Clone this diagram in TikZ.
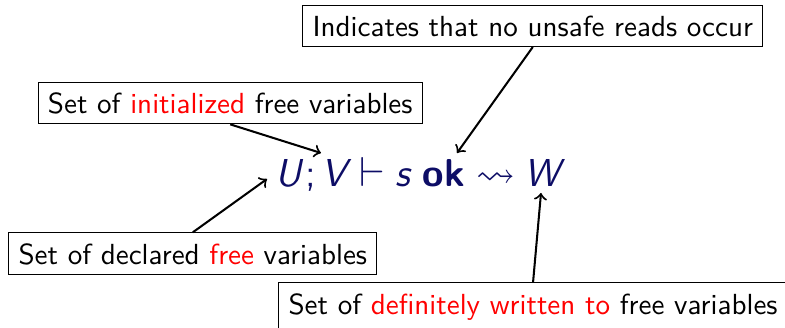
\documentclass[tikz,border=0pt]{standalone}
\usepackage{amssymb}
\usepackage{fontspec}
\definecolor{formula}{rgb}{0.05,0.05,0.4}
\tikzset{
  note/.style={draw, font=\sffamily\fontsize{10}{12}\selectfont, inner sep=3.33pt, text height=7.4pt, anchor=north west},
  ptr/.style={->, line width=0.7pt},
  sym/.style={anchor=base west, inner sep=0pt, text=formula, font=\sffamily\fontsize{13.4}{15}\selectfont},
}
\newcommand{\hl}[1]{\textcolor{red}{#1}}
\begin{document}
\begin{tikzpicture}[x=0.3441pt,y=-0.3441pt]
\useasboundingbox (0,0) rectangle (785,328);
\clip (0,0) rectangle (785,328);
\node[note] (top) at (302.3,4.7) {Indicates that no unsafe reads occur};
\node[note] (init) at (37.7,81.7) {Set of \hl{initialized} free variables};
\node[note] (decl) at (8.3,232.3) {Set of declared \hl{free} variables};
\node[note] (writ) at (278.3,282.3) {Set of \hl{definitely written to} free variables};
\node[sym] (fU) at (275,187) {\itshape U};
\node[sym] (fsemi) at (305,187) {;};
\node[sym] (fV) at (321,187) {\itshape V};
\node[sym] (fvd) at (359,187) {$\vdash$};
\node[sym] (fs) at (395,187) {\itshape s};
\node[sym] (fok) at (422,187) {\bfseries ok};
\node[sym] (fsq) at (476,187) {$\rightsquigarrow$};
\node[sym] (fW) at (524,187) {\itshape W};
\coordinate (uL) at (267,179);
\coordinate (uT) at (321,153);
\coordinate (okT) at (457,153);
\coordinate (wB) at (541,193);
\draw[ptr] (decl.north) -- (uL);
\draw[ptr] (init.south) -- (uT);
\draw[ptr] (top.south) -- (okT);
\draw[ptr] (writ.north) -- (wB);
\end{tikzpicture}
\end{document}
